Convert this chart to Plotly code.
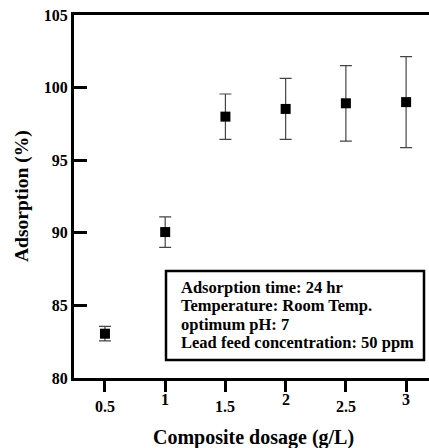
import plotly.graph_objects as go

dosage = [0.5, 1.0, 1.5, 2.0, 2.5, 3.0]
adsorption = [83.05, 90.05, 98.0, 98.53, 98.92, 99.0]
err = [0.5, 1.05, 1.56, 2.1, 2.6, 3.13]

x_tick_vals = [0.5, 1, 1.5, 2, 2.5, 3]
x_tick_text = ["0.5", "1", "1.5", "2", "2.5", "3"]
y_tick_vals = [80, 85, 90, 95, 100, 105]

box_lines = ["Adsorption time: 24 hr", "Temperature: Room Temp.",
             "optimum pH: 7", "Lead feed concentration: 50 ppm"]

FONT = "Liberation Serif"
PW, PH = 355.0, 363.0

def bfont(size):
    return dict(family=FONT, size=size, color="black", weight="bold")

fig = go.Figure()
fig.add_trace(go.Scatter(
    x=dosage, y=adsorption, mode="markers",
    marker=dict(symbol="square", size=10, color="black"),
    error_y=dict(type="data", array=err, visible=True, color="#444444",
                 thickness=1.2, width=6),
    showlegend=False,
))

annotations = []
for v, t in zip(x_tick_vals, x_tick_text):
    low = t in ("0.5", "1.5", "2.5")
    annotations.append(dict(
        x=v, y=0, xref="x", yref="paper", text=t,
        showarrow=False, yanchor="middle", xanchor="center",
        yshift=-28 if low else -21, font=bfont(16)))

line_px = [287, 305.5, 324, 342.5]
for s, py in zip(box_lines, line_px):
    annotations.append(dict(
        x=(179 - 74) / PW, y=(378 - py) / PH, xref="paper", yref="paper",
        xanchor="left", yanchor="middle", text=s, showarrow=False,
        font=bfont(16.5)))

annotations.append(dict(
    x=(253 - 74) / PW, y=-59 / PH, xref="paper", yref="paper",
    text="Composite dosage (g/L)", showarrow=False,
    xanchor="center", yanchor="middle", font=bfont(20)))

annotations.append(dict(
    x=-52 / PW, y=(378 - 196) / PH, xref="paper", yref="paper",
    text="Adsorption (%)", showarrow=False, textangle=-90,
    xanchor="center", yanchor="middle", font=bfont(19.5)))

fig.add_shape(type="rect", xref="paper", yref="paper",
              x0=(166 - 74) / PW, x1=(424 - 74) / PW,
              y0=(378 - 360) / PH, y1=(378 - 271) / PH,
              line=dict(color="black", width=2.5), fillcolor="white",
              layer="above")

fig.update_layout(
    width=429, height=448,
    margin=dict(l=74, r=0, t=15, b=70),
    plot_bgcolor="white", paper_bgcolor="white",
    annotations=annotations,
    xaxis=dict(range=[0.243, 3.19], tickvals=x_tick_vals, showticklabels=False,
               ticks="outside", ticklen=11, tickwidth=2.5, tickcolor="black",
               showline=True, linecolor="black", linewidth=3, mirror=True,
               showgrid=False, zeroline=False),
    yaxis=dict(range=[80, 105], tickvals=y_tick_vals,
               ticks="inside", ticklen=13, tickwidth=2.5, tickcolor="black",
               showline=True, linecolor="black", linewidth=3,
               showgrid=False, zeroline=False,
               tickfont=bfont(16)),
)

fig.write_html("out.html")
